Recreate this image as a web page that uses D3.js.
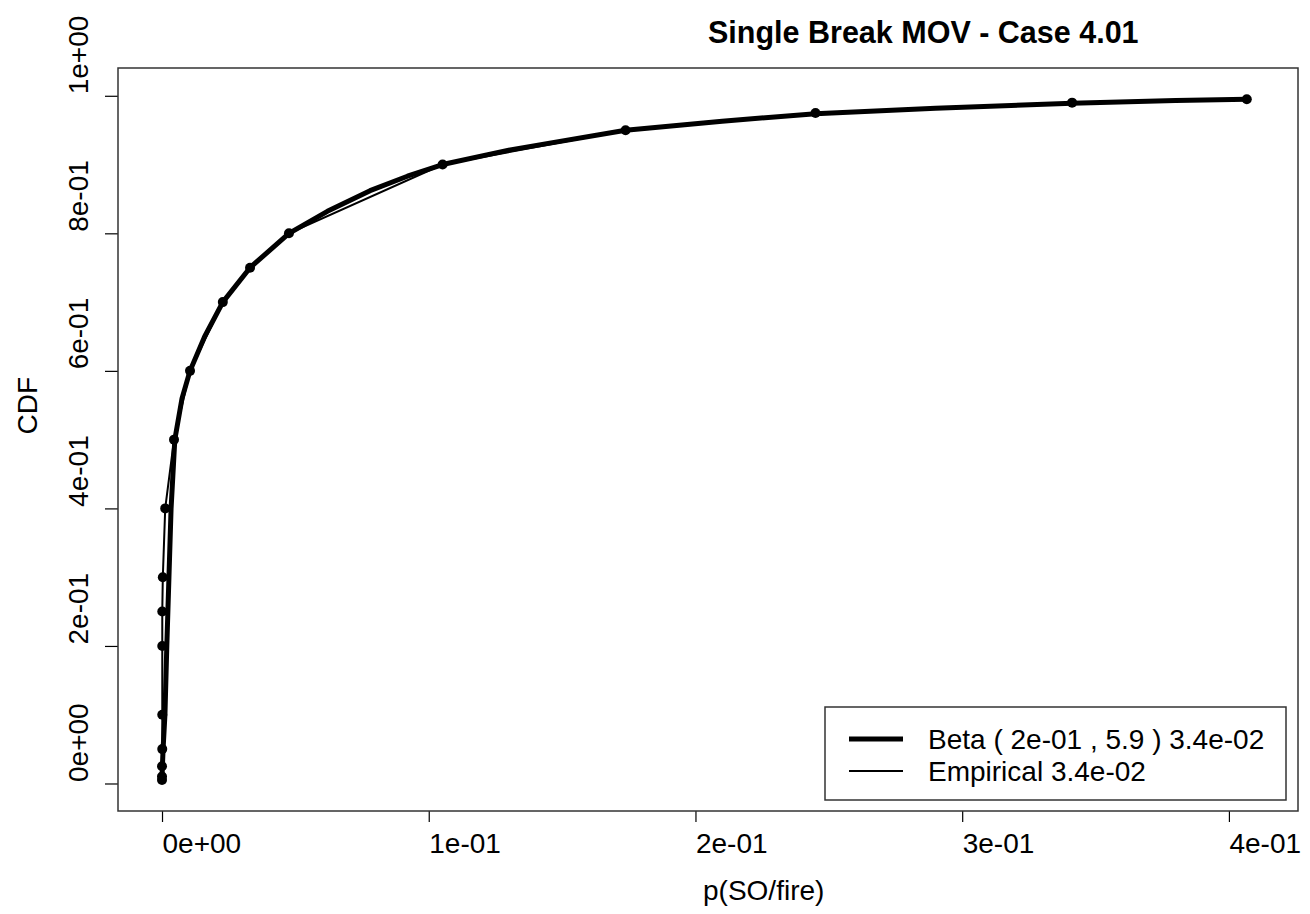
<!DOCTYPE html>
<html>
<head>
<meta charset="utf-8">
<script src="https://cdn.jsdelivr.net/npm/d3@7"></script>
<style>
    body { margin: 0; background: #fff; }
    svg { display: block; font-family: 'Liberation Sans', Arial, sans-serif; }
</style>
</head>
<body>
<svg id="chart" width="1310" height="914"></svg>
<script>
// empirical quantiles (p(SO/fire) value, cumulative probability)
const empX = [0.0000, 0.0000, 0.0000, 0.0001, 0.0001, 0.0001, 0.0001, 0.0003, 0.0012, 0.0045,
    0.0105, 0.0228, 0.0330, 0.0476, 0.1052, 0.1738, 0.2450, 0.3412, 0.4067];
const empP = [0.005, 0.01, 0.025, 0.05, 0.1, 0.2, 0.25, 0.3, 0.4, 0.5,
    0.6, 0.7, 0.75, 0.8, 0.9, 0.95, 0.975, 0.99, 0.995];

// fitted beta curve
const betaX = [0.0000, 0.0001, 0.0004, 0.0011, 0.0018, 0.0026, 0.0034, 0.0048, 0.0075, 0.0105,
    0.0160, 0.0228, 0.0330, 0.0476, 0.0620, 0.0780, 0.0920, 0.1052, 0.1300, 0.1738,
    0.2100, 0.2450, 0.2900, 0.3412, 0.3800, 0.4067];
const betaP = [0.005, 0.02, 0.05, 0.1, 0.2, 0.3, 0.4, 0.5, 0.56, 0.6,
    0.65, 0.7, 0.75, 0.8, 0.832, 0.862, 0.883, 0.9, 0.921, 0.95,
    0.963, 0.974, 0.982, 0.989, 0.993, 0.995];

const xTicks = [0, 0.1, 0.2, 0.3, 0.4];
const xTickLabels = ['0e+00', '1e-01', '2e-01', '3e-01', '4e-01'];
const yTicks = [0, 0.2, 0.4, 0.6, 0.8, 1];
const yTickLabels = ['0e+00', '2e-01', '4e-01', '6e-01', '8e-01', '1e+00'];

const legendLabels = ['Beta ( 2e-01 , 5.9 ) 3.4e-02', 'Empirical 3.4e-02'];

const margin = {top: 68, right: 12, bottom: 103, left: 118},
    width = 1310 - margin.left - margin.right,
    height = 914 - margin.top - margin.bottom;

const svg = d3.select('#chart');
const g = svg.append('g')
    .attr('transform', 'translate(' + margin.left + ',' + margin.top + ')');

const xScale = d3.scaleLinear().domain([-0.0165, 0.4259]).range([0, width]);
const yScale = d3.scaleLinear().domain([-0.040, 1.0404]).range([height, 0]);

const fontSize = 28;

// Axes
const xAxis = g.append('g')
    .attr('transform', `translate(0,${height})`)
    .call(d3.axisBottom(xScale)
        .tickValues(xTicks)
        .tickFormat((d, i) => xTickLabels[i])
        .tickSize(11)
        .tickSizeOuter(0));
xAxis.select('.domain').remove();
xAxis.selectAll('line').attr('stroke', '#000').attr('stroke-width', 1.2);
xAxis.selectAll('text')
    .attr('y', 42)
    .attr('dy', 0)
    .attr('text-anchor', 'start')
    .attr('font-size', fontSize)
    .attr('font-family', null)
    .attr('fill', '#000');

const yAxis = g.append('g')
    .call(d3.axisLeft(yScale)
        .tickValues(yTicks)
        .tickFormat((d, i) => yTickLabels[i])
        .tickSize(13)
        .tickSizeOuter(0));
yAxis.select('.domain').remove();
yAxis.selectAll('line').attr('stroke', '#000').attr('stroke-width', 1.2);
yAxis.selectAll('text')
    .attr('transform', 'rotate(-90)')
    .attr('x', 2)
    .attr('y', -30)
    .attr('dy', 0)
    .attr('text-anchor', 'start')
    .attr('font-size', fontSize)
    .attr('font-family', null)
    .attr('fill', '#000');

// Frame
g.append('rect')
    .attr('width', width)
    .attr('height', height)
    .attr('fill', 'none')
    .attr('stroke', '#333')
    .attr('stroke-width', 1.5);

// Lines
const empData = empX.map((x, i) => ({x: x, p: empP[i]}));
const betaData = betaX.map((x, i) => ({x: x, p: betaP[i]}));

const line = d3.line()
    .x(d => xScale(d.x))
    .y(d => yScale(d.p));

g.append('path')
    .attr('d', line(betaData))
    .attr('fill', 'none')
    .attr('stroke', '#000')
    .attr('stroke-width', 5)
    .attr('stroke-linejoin', 'round');

g.append('path')
    .attr('d', line(empData))
    .attr('fill', 'none')
    .attr('stroke', '#000')
    .attr('stroke-width', 2);

g.append('g')
    .selectAll('circle')
    .data(empData)
    .enter()
    .append('circle')
        .attr('cx', d => xScale(d.x))
        .attr('cy', d => yScale(d.p))
        .attr('r', 5)
        .attr('fill', '#000');

// Labels
svg.append('text')
    .attr('x', margin.left + width / 2)
    .attr('y', 43)
    .attr('font-size', 30.5)
    .attr('font-weight', 'bold')
    .text('Single Break MOV - Case 4.01');

svg.append('text')
    .attr('x', margin.left + width / 2 - 5)
    .attr('y', 900)
    .attr('font-size', fontSize)
    .text('p(SO/fire)');

svg.append('text')
    .attr('transform', 'translate(37,' + (margin.top + height / 2 - 5) + ') rotate(-90)')
    .attr('font-size', fontSize)
    .text('CDF');

// Legend
const legend = svg.append('g')
    .attr('transform', 'translate(825,707)');

legend.append('rect')
    .attr('width', 461)
    .attr('height', 93)
    .attr('fill', '#fff')
    .attr('stroke', '#333')
    .attr('stroke-width', 1.5);

legendLabels.forEach((label, i) => {
    const row = legend.append('g')
        .attr('transform', 'translate(0,' + (32 + i * 32) + ')');

    row.append('line')
        .attr('x1', 24)
        .attr('x2', 78)
        .attr('stroke', '#000')
        .attr('stroke-width', i === 0 ? 5 : 2);

    row.append('text')
        .attr('x', 103)
        .attr('y', 10)
        .attr('font-size', fontSize)
        .text(label);
});
</script>
</body>
</html>
